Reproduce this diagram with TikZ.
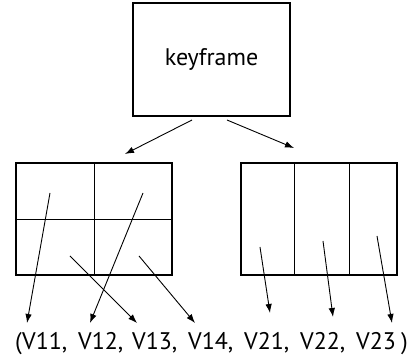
\documentclass[tikz,border=0pt]{standalone}
\usepackage{fontspec}
\setmainfont{PT Sans}
\usetikzlibrary{arrows.meta}
\begin{document}
\begin{tikzpicture}[x=1pt,y=-1pt,
  frame/.style={draw,line width=1.8pt},
  divider/.style={draw,line width=0.9pt},
  arr/.style={draw,line width=0.9pt,-{Latex[length=9pt,width=6.5pt]}},
  tok/.style={anchor=base west,inner sep=0pt,font=\fontsize{24}{29}\selectfont}]
\useasboundingbox (0,0) rectangle (416,363);
% keyframe box
\node[frame,minimum width=157pt,minimum height=113pt,inner sep=0pt,
  font=\fontsize{24}{28}\selectfont] (kf) at (211.5,59.5) {keyframe};
% left grid
\node[frame,minimum width=156pt,minimum height=112pt,inner sep=0pt] (g1) at (94,219) {};
\draw[divider] (g1.north) -- (g1.south);
\draw[divider] (g1.west) -- (g1.east);
% right grid
\node[frame,minimum width=156pt,minimum height=112pt,inner sep=0pt] (g2) at (319,219) {};
\coordinate (d1t) at (294,163); \coordinate (d1b) at (294,275);
\coordinate (d2t) at (349,163); \coordinate (d2b) at (349,275);
\draw[divider] (d1t) -- (d1b);
\draw[divider] (d2t) -- (d2b);
% arrows from keyframe
\coordinate (ka) at (192,120); \coordinate (kb) at (227,120);
\coordinate (la) at (125,154); \coordinate (lb) at (294,148);
\draw[arr] (ka) -- (la);
\draw[arr] (kb) -- (lb);
% tokens
\node[tok] (t11) at (15,350) {(V11,};
\node[tok] (t12) at (78,350) {V12,};
\node[tok] (t13) at (132,350) {V13,};
\node[tok] (t14) at (188,350) {V14,};
\node[tok] (t21) at (244,350) {V21,};
\node[tok] (t22) at (300,350) {V22,};
\node[tok] (t23) at (356,350) {V23};
\node[tok] (tc) at (401,350) {)};
% cell arrow starts
\coordinate (s1) at (50,193); \coordinate (s2) at (143,193);
\coordinate (s3) at (70,256); \coordinate (s4) at (139,256);
\coordinate (s5) at (260,247); \coordinate (s6) at (323,241);
\coordinate (s7) at (377,236);
% arrow ends
\coordinate (e1) at (27,323); \coordinate (e2) at (90,323);
\coordinate (e3) at (137,323); \coordinate (e4) at (195,323);
\coordinate (e5) at (270,313); \coordinate (e6) at (333,317);
\coordinate (e7) at (392,323);
\foreach \i in {1,...,7} {\draw[arr] (s\i) -- (e\i);}
\end{tikzpicture}
\end{document}
